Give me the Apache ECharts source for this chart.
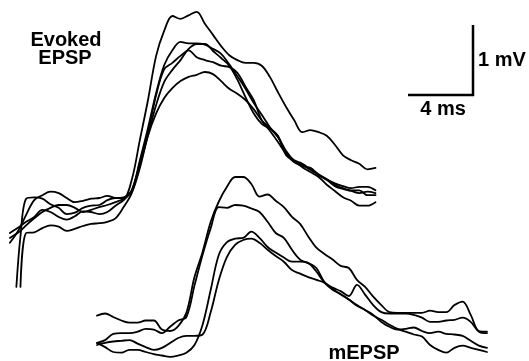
<!DOCTYPE html>
<html>
<head>
<meta charset="utf-8">
<script src="https://cdn.jsdelivr.net/npm/echarts@6/dist/echarts.min.js"></script>
<style>
  html, body { margin: 0; padding: 0; background: #fff; }
  #chart { width: 529px; height: 361px; }
</style>
</head>
<body>
<div id="chart"></div>
<script>
// evoked EPSPs, time in ms from the stimulus, voltage in mV from baseline
const evokedTime = [-0.5, -0.1, 0.15, 0.5, 1, 1.5, 2, 2.5, 3, 3.5, 4, 4.5, 5, 5.5, 6, 6.5, 7, 7.5, 8, 8.5, 9, 9.5, 10,
  10.5, 11, 11.5, 12, 12.5, 13, 13.5, 14, 14.5, 15, 15.5, 16, 16.5, 17, 17.5, 18, 18.5, 19, 19.5, 20, 20.5, 21, 21.5, 22]

const evoked1 = [null, -1.17, -0.45, 0.09, 0.11, 0.09, 0.01, -0.04, -0.13, -0.11, -0.04, -0.01, 0, 0.07, 0.10, 0.10, 0.36,
  0.93, 1.50, 2.13, 2.49, 2.70, 2.66, 2.71, 2.76, 2.59, 2.43, 2.27, 2.14, 2.07, 2.03, 2.03, 1.99, 1.83, 1.61, 1.40,
  1.21, 1.04, 1.07, 1.04, 0.99, 0.86, 0.71, 0.64, 0.59, 0.51, 0.53]
const evoked2 = [-0.54, -0.41, -0.31, -0.14, 0.07, 0.14, 0.19, 0.17, 0.10, 0.04, 0.06, 0.09, 0.10, 0.13, 0.10, 0.11, 0.21,
  0.64, 1.10, 1.60, 2.00, 2.21, 2.33, 2.31, 2.31, 2.29, 2.23, 2.16, 2.01, 1.84, 1.66, 1.46, 1.29, 1.11, 0.97, 0.74,
  0.64, 0.59, 0.51, 0.44, 0.37, 0.31, 0.27, 0.24, 0.26, 0.26, 0.21]
const evoked3 = [-0.47, -0.41, -0.37, -0.29, -0.19, -0.10, -0.04, 0, 0, -0.04, -0.10, -0.07, -0.03, 0, 0.04, 0.09, 0.19,
  0.57, 1.00, 1.43, 1.76, 1.93, 2.07, 2.23, 2.30, 2.30, 2.20, 2.10, 1.99, 1.79, 1.54, 1.31, 1.16, 1.09, 0.99, 0.71,
  0.63, 0.57, 0.50, 0.43, 0.36, 0.27, 0.23, 0.20, 0.17, 0.19, 0.17]
const evoked4 = [-0.40, -0.34, -0.30, -0.24, -0.17, -0.07, -0.10, -0.17, -0.21, -0.16, -0.09, -0.10, -0.13, -0.10, -0.01, 0.07, 0.21,
  0.60, 1.03, 1.57, 1.94, 2.03, 2.13, 2.21, 2.11, 2.07, 2.04, 1.99, 1.97, 1.89, 1.69, 1.50, 1.21, 1.06, 0.90, 0.73,
  0.61, 0.56, 0.53, 0.43, 0.36, 0.29, 0.24, 0.21, 0.21, 0.14, 0.14]
const evoked5 = [null, null, -1.17, -0.40, -0.39, -0.33, -0.29, -0.31, -0.37, -0.34, -0.30, -0.27, -0.26, -0.24, -0.19, -0.03, 0.17,
  0.53, 0.99, 1.31, 1.53, 1.67, 1.77, 1.83, 1.86, 1.90, 1.87, 1.77, 1.66, 1.59, 1.50, 1.37, 1.21, 1.10, 0.97, 0.77,
  0.63, 0.54, 0.47, 0.40, 0.29, 0.20, 0.11, 0.06, -0.01, -0.01, 0.04]

// spontaneous miniature EPSPs, time in ms from the start of each sweep
const mepspTime = [0, 0.5, 1, 1.5, 2, 2.5, 3, 3.5, 4, 4.5, 5, 5.5, 6, 6.5, 7, 7.5, 8, 8.5, 9, 9.5, 10, 10.5, 11, 11.5,
  12, 12.5, 13, 13.5, 14, 14.5, 15, 15.5, 16, 16.5, 17, 17.5, 18, 18.5, 19, 19.5, 20, 20.5, 21, 21.5, 22, 22.5, 23, 23.5, 24]

const mepsp1 = [0.06, 0.09, 0.04, -0.01, -0.04, -0.04, -0.01, -0.01, -0.14, -0.16, -0.09, 0.10, 0.61, 0.97, 1.40, 1.69,
  1.90, 2.04, 2.04, 1.94, 1.76, 1.79, 1.70, 1.61, 1.47, 1.37, 1.19, 1.03, 0.94, 0.86, 0.77, 0.74, 0.57, 0.47, 0.33,
  0.21, 0.11, 0.10, 0.10, 0.10, 0.10, 0.13, 0.11, 0.11, 0.21, 0.26, 0.07, -0.16, -0.17]
const mepsp2 = [-0.33, -0.29, -0.20, -0.19, -0.19, -0.17, -0.13, -0.14, -0.19, -0.10, -0.01, 0.04, 0.49, 0.93, 1.31, 1.61,
  1.60, 1.64, 1.63, 1.59, 1.54, 1.40, 1.24, 1.17, 1.00, 0.86, 0.81, 0.74, 0.54, 0.46, 0.41, 0.34, 0.50, 0.36, 0.21,
  0.11, 0.09, 0.09, 0.09, 0.07, 0.03, -0.03, -0.03, -0.01, 0, 0.03, -0.03, -0.17, -0.19]
const mepsp3 = [-0.33, -0.39, -0.46, -0.47, -0.43, -0.43, -0.46, -0.49, -0.51, -0.53, -0.51, -0.47, -0.36, -0.07, 0.43, 0.93,
  1.11, 1.16, 1.17, 1.26, 1.17, 1.04, 0.96, 0.89, 0.83, 0.83, 0.81, 0.69, 0.53, 0.43, 0.37, 0.29, 0.21, 0.14, 0.07,
  -0.03, -0.10, -0.14, -0.13, -0.11, -0.16, -0.19, -0.17, -0.20, -0.21, -0.23, -0.30, -0.37, -0.40]
const mepsp4 = [-0.36, -0.33, -0.31, -0.30, -0.29, -0.34, -0.39, -0.43, -0.40, -0.33, -0.26, -0.23, -0.23, -0.21, 0.11, 0.57,
  0.90, 1.07, 1.14, 1.16, 1.10, 1.00, 0.91, 0.83, 0.71, 0.66, 0.61, 0.57, 0.53, 0.44, 0.36, 0.29, 0.20, 0.14, 0.06,
  0, -0.07, -0.13, -0.17, -0.21, -0.24, -0.36, -0.43, -0.47, -0.40, -0.37, -0.40, -0.43, -0.46]

// calibration bars: 4 ms and 1 mV
const scaleBarTime = [24, 28, 28]
const scaleBarVolt = [1.57, 1.57, 2.57]

// layout: the mEPSP sweeps are drawn below and to the right of the evoked ones
const PX_PER_MS = 16.25
const PX_PER_MV = 70
const ORIGIN_X = 18
const ORIGIN_Y = 205
const mepspOffset = { t: 4.86, v: -1.64 }

const W = 529
const H = 361

const chart = echarts.init(document.getElementById('chart'), null, { renderer: 'canvas' })

function tracePairs(time, values, dt, dv) {
  const out = []
  for (let i = 0; i < time.length; i++) {
    if (values[i] == null) continue
    out.push([time[i] + dt, values[i] + dv])
  }
  return out
}

function traceSeries(data) {
  return {
    type: 'line',
    data: data,
    symbol: 'none',
    smooth: 0.35,
    silent: true,
    lineStyle: { color: '#000', width: 1.8, join: 'round', cap: 'round' }
  }
}

const series = []
;[evoked1, evoked2, evoked3, evoked4, evoked5].forEach(v => {
  series.push(traceSeries(tracePairs(evokedTime, v, 0, 0)))
})
;[mepsp1, mepsp2, mepsp3, mepsp4].forEach(v => {
  series.push(traceSeries(tracePairs(mepspTime, v, mepspOffset.t, mepspOffset.v)))
})
series.push({
  type: 'line',
  data: scaleBarTime.map((t, i) => [t, scaleBarVolt[i]]),
  symbol: 'none',
  silent: true,
  lineStyle: { color: '#000', width: 2.5, join: 'miter', cap: 'butt' }
})

const labelStyle = {
  fill: '#000',
  fontFamily: 'Liberation Sans, Arial, sans-serif',
  fontWeight: 'bold',
  fontSize: 20
}

const option = {
  animation: false,
  backgroundColor: '#fff',
  grid: { left: 0, right: 0, top: 0, bottom: 0 },
  xAxis: {
    type: 'value',
    min: -ORIGIN_X / PX_PER_MS,
    max: (W - ORIGIN_X) / PX_PER_MS,
    show: false
  },
  yAxis: {
    type: 'value',
    min: -(H - ORIGIN_Y) / PX_PER_MV,
    max: ORIGIN_Y / PX_PER_MV,
    show: false
  },
  graphic: [
    { type: 'text', x: 66, y: 40, style: Object.assign({ text: 'Evoked', align: 'center', verticalAlign: 'middle' }, labelStyle) },
    { type: 'text', x: 65, y: 58, style: Object.assign({ text: 'EPSP', align: 'center', verticalAlign: 'middle' }, labelStyle) },
    { type: 'text', x: 478, y: 60, style: Object.assign({ text: '1 mV', align: 'left', verticalAlign: 'middle' }, labelStyle) },
    { type: 'text', x: 443, y: 109, style: Object.assign({ text: '4 ms', align: 'center', verticalAlign: 'middle' }, labelStyle) },
    { type: 'text', x: 364, y: 353, style: Object.assign({ text: 'mEPSP', align: 'center', verticalAlign: 'middle' }, labelStyle) }
  ],
  series: series
}

chart.setOption(option)
</script>
</body>
</html>
